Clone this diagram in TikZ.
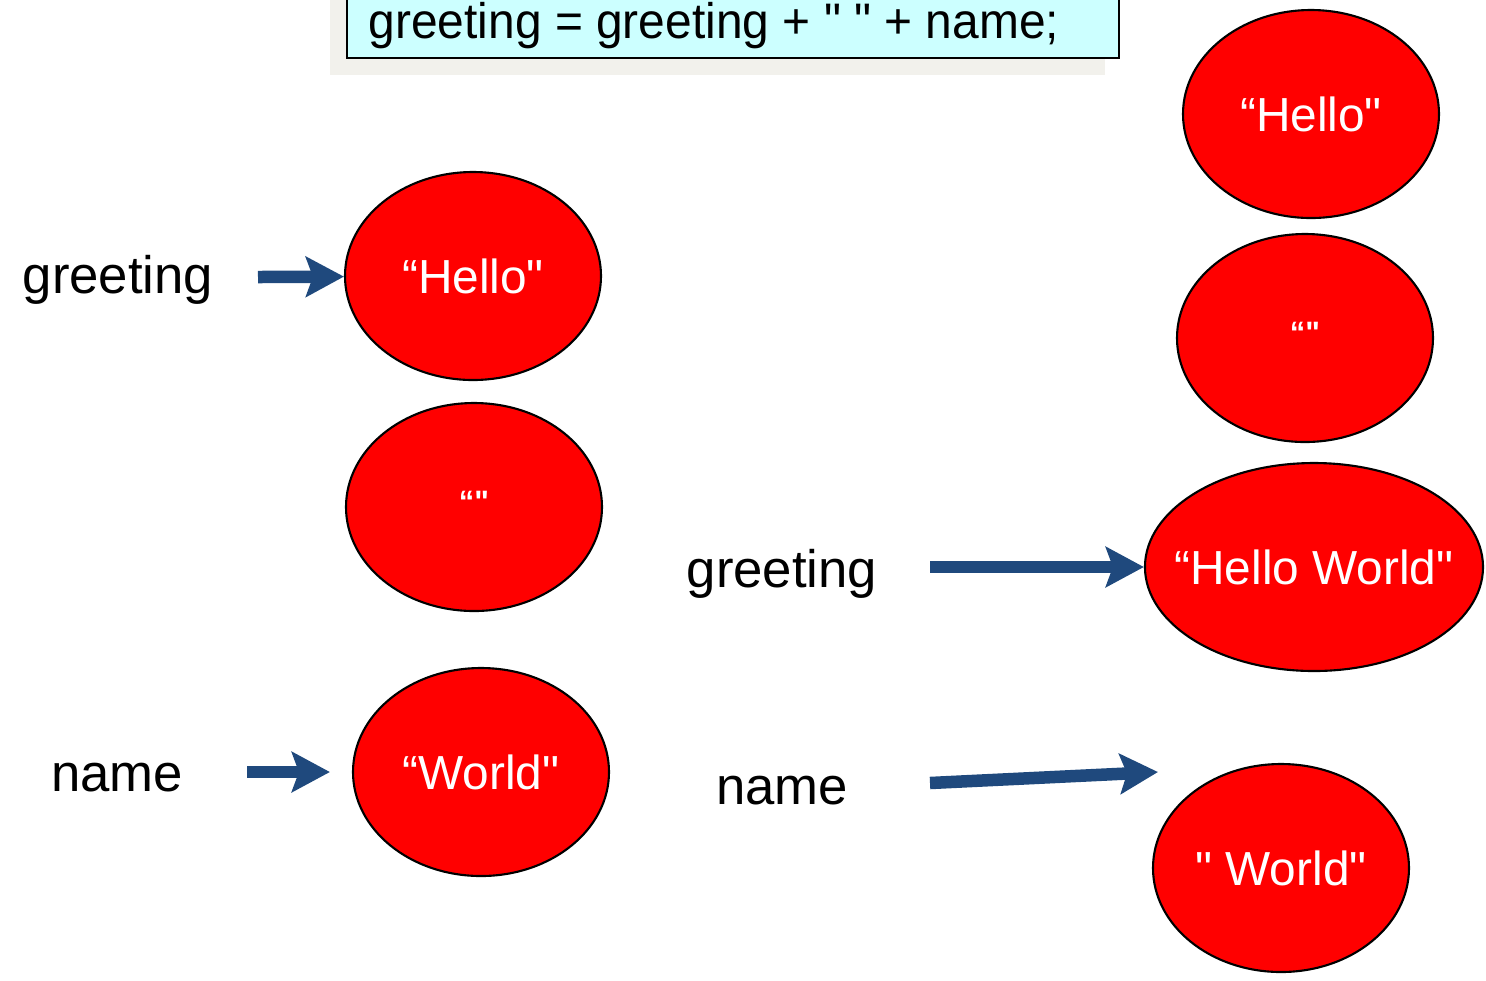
\documentclass[tikz,border=0pt]{standalone}
\usepackage{fontspec}
\setmainfont{Liberation Sans}[Ligatures=TeXOff]
\usepackage{tikz}
\usetikzlibrary{shapes.geometric, arrows.meta}
\definecolor{ptrblue}{RGB}{31,73,125}
\definecolor{codecyan}{RGB}{204,255,255}
\definecolor{shadowgray}{RGB}{242,241,236}

\begin{document}
\begin{tikzpicture}[x=1cm, y=-1cm,
    strobj/.style={ellipse, draw=black, line width=0.6pt, fill=red, text=white, inner sep=0pt,
      minimum width=2.56cm, minimum height=2.08cm, font=\fontsize{13.6}{16}\selectfont},
    emptystr/.style={strobj, font=\fontsize{8.8}{10}\selectfont\bfseries, text depth=0.11cm},
    varname/.style={inner sep=0pt, anchor=base, font=\fontsize{15}{18}\selectfont},
    ptr/.style={ptrblue, line width=0.125cm, -{Stealth[length=0.38cm, width=0.40cm, inset=0.07cm]}}]
    \useasboundingbox (0,0) rectangle (14.86,9.80);

    % the statement
    \fill[shadowgray] (3.30,-0.2) rectangle (11.05,0.75);
    \draw[fill=codecyan, line width=0.6pt] (3.47,-0.2) rectangle (11.19,0.58);
    \node[anchor=base west, inner sep=0pt, xscale=0.96, font=\fontsize{14.2}{17}\selectfont] (code) at (3.68,0.38) {greeting = greeting + " " + name;};

    % before
    \node[varname] (greet1) at (1.18,2.93) {greeting};
    \node[varname] (name1) at (1.17,7.91) {name};
    \node[strobj] (hello1) at (4.73,2.76) {“Hello"};
    \node[emptystr] (empty1) at (4.74,5.07) {“"};
    \node[strobj] (world1) at (4.81,7.72) {“World"};
    \coordinate (t1) at (2.58,2.77);
    \coordinate (t2) at (2.47,7.72);
    \draw[ptr] (t1) -- (hello1);
    \draw[ptr, shorten >=0.22cm] (t2) -- (world1);

    % after
    \node[varname] (greet2) at (7.82,5.87) {greeting};
    \node[varname] (name2) at (7.82,8.04) {name};
    \node[strobj] (hello2) at (13.11,1.14) {“Hello"};
    \node[emptystr] (empty2) at (13.05,3.38) {“"};
    \node[strobj, minimum width=3.37cm, inner xsep=-0.2cm] (hw) at (13.14,5.67) {“Hello World"};
    \node[strobj] (world2) at (12.81,8.68) {" World"};
    \coordinate (t3) at (9.30,5.67);
    \coordinate (t4) at (9.30,7.83);
    \coordinate (h4) at (11.58,7.72);
    \draw[ptr] (t3) -- (hw);
    \draw[ptr] (t4) -- (h4);
\end{tikzpicture}
\end{document}
